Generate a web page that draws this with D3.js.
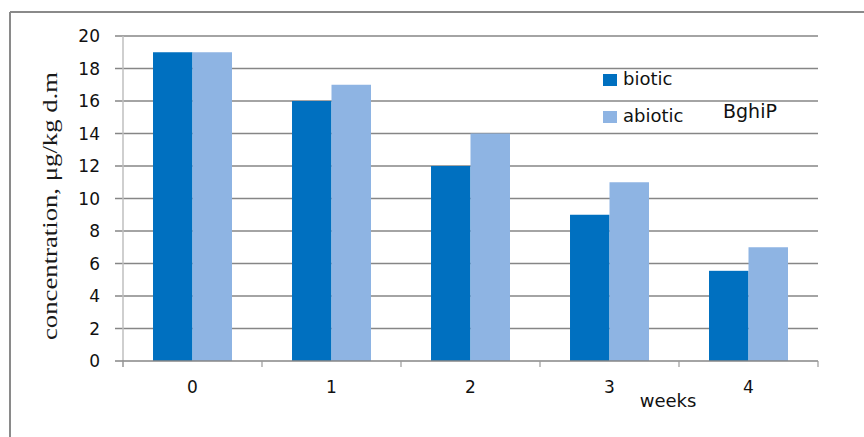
<!DOCTYPE html>
<html>
<head>
<meta charset="utf-8">
<script src="https://cdn.jsdelivr.net/npm/d3@7"></script>
<style>
  html, body { margin: 0; padding: 0; background: #fff; }
  svg { display: block; }
</style>
</head>
<body>
<svg id="chart" width="864" height="437"></svg>
<script>
const categories = ["0", "1", "2", "3", "4"];
const seriesNames = ["biotic", "abiotic"];
const biotic = [19, 16, 12, 9, 5.55];
const abiotic = [19, 17, 14, 11, 7];
const yTicks = [0, 2, 4, 6, 8, 10, 12, 14, 16, 18, 20];
const colors = { biotic: "#0070C0", abiotic: "#8EB4E3" };

const svg = d3.select("#chart");
svg.append("rect").attr("width", 864).attr("height", 437).attr("fill", "#fff");

// outer frame (top and left visible)
svg.append("line").attr("x1", 10).attr("x2", 864).attr("y1", 12).attr("y2", 12)
  .attr("stroke", "#8a8a8a").attr("stroke-width", 2);
svg.append("line").attr("x1", 10).attr("x2", 10).attr("y1", 12).attr("y2", 437)
  .attr("stroke", "#8a8a8a").attr("stroke-width", 2);

const y = d3.scaleLinear().domain([0, 20]).range([361, 36]);
const x = d3.scaleBand().domain(categories).range([123, 818]).padding(0);
const sub = d3.scaleBand().domain(seriesNames).range([0, x.bandwidth()])
  .paddingInner(0).paddingOuter(0.76);

const font = "'DejaVu Sans', sans-serif";

// gridlines
svg.append("g").selectAll("line").data(yTicks.filter(d => d > 0)).join("line")
  .attr("x1", 115).attr("x2", 818)
  .attr("y1", d => y(d)).attr("y2", d => y(d))
  .attr("stroke", "#868686").attr("stroke-width", 1.4);

// y tick labels
svg.append("g").selectAll("text").data(yTicks).join("text")
  .attr("x", 100).attr("y", d => y(d)).attr("dy", "0.36em")
  .attr("text-anchor", "end")
  .attr("font-family", font).attr("font-size", 17).attr("fill", "#111")
  .text(d => d);

// bars
const rows = categories.map((c, i) => ({ cat: c, biotic: biotic[i], abiotic: abiotic[i] }));
const groups = svg.append("g").selectAll("g").data(rows).join("g")
  .attr("transform", d => `translate(${x(d.cat)},0)`);
groups.selectAll("rect").data(d => seriesNames.map(s => ({ s, v: d[s] }))).join("rect")
  .attr("x", d => sub(d.s)).attr("width", sub.bandwidth())
  .attr("y", d => y(d.v)).attr("height", d => y(0) - y(d.v))
  .attr("fill", d => colors[d.s]);

// vertical axis line
svg.append("line").attr("x1", 123).attr("x2", 123).attr("y1", 36).attr("y2", 367)
  .attr("stroke", "#bfbfbf").attr("stroke-width", 1.5);

// x axis
svg.append("line").attr("x1", 115).attr("x2", 818).attr("y1", y(0)).attr("y2", y(0))
  .attr("stroke", "#868686").attr("stroke-width", 1.4);
const boundaries = categories.map(c => x(c) + x.step()).concat([x(categories[0])]);
svg.append("g").selectAll("line").data(boundaries).join("line")
  .attr("x1", d => d).attr("x2", d => d).attr("y1", y(0)).attr("y2", y(0) + 6)
  .attr("stroke", "#9a9a9a").attr("stroke-width", 1.2);
svg.append("g").selectAll("text").data(categories).join("text")
  .attr("x", d => x(d) + x.bandwidth() / 2).attr("y", 393)
  .attr("text-anchor", "middle")
  .attr("font-family", font).attr("font-size", 17).attr("fill", "#111")
  .text(d => d);

// axis titles
svg.append("text").attr("x", 668).attr("y", 407).attr("text-anchor", "middle")
  .attr("font-family", font).attr("font-size", 18).attr("fill", "#111")
  .text("weeks");
svg.append("text")
  .attr("transform", "translate(57,206) rotate(-90)")
  .attr("text-anchor", "middle")
  .attr("font-family", "'Liberation Serif', 'Times New Roman', serif")
  .attr("font-size", 22).attr("fill", "#1a1a1a")
  .attr("textLength", 268).attr("lengthAdjust", "spacingAndGlyphs")
  .text("concentration, μg/kg d.m");

// legend
const legend = svg.append("g");
const legY = [74, 111];
seriesNames.forEach((s, i) => {
  legend.append("rect").attr("x", 603).attr("y", legY[i]).attr("width", 14).attr("height", 12)
    .attr("fill", colors[s]);
  legend.append("text").attr("x", 623).attr("y", legY[i] + 11)
    .attr("font-family", font).attr("font-size", 18).attr("fill", "#111")
    .text(s);
});
svg.append("text").attr("x", 723).attr("y", 118)
  .attr("font-family", font).attr("font-size", 19).attr("fill", "#111")
  .text("BghiP");
</script>
</body>
</html>
